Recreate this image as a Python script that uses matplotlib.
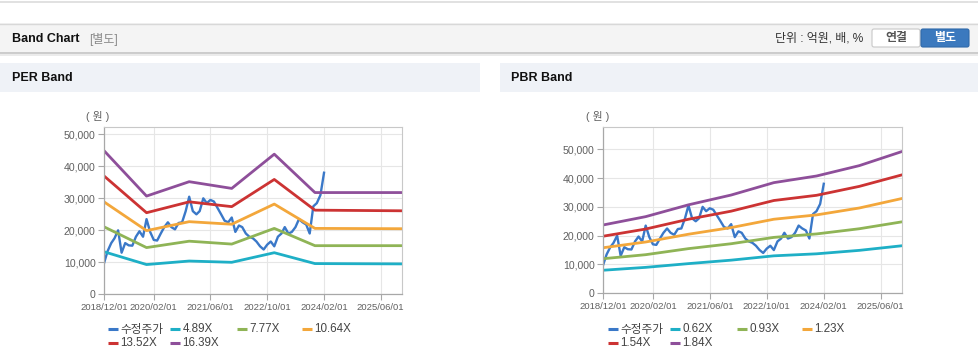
import matplotlib
matplotlib.use('Agg')
import matplotlib.pyplot as plt
import matplotlib.dates as mdates
from matplotlib.patches import Rectangle, FancyBboxPatch
from matplotlib.ticker import FuncFormatter
import pandas as pd

plt.rcParams['font.family'] = ['Liberation Sans', 'Noto Sans CJK KR']

# 수정주가 (monthly, 2018/12 ~ 2024/02), unit: 원
price_dates = pd.date_range('2018-12-01', periods=63, freq='MS')
price = [9700, 13500, 16000, 17500, 20000, 13000, 16000, 15300, 15200, 18000,
         19700, 18000, 23500, 19500, 17000, 16800, 19000, 21000, 22500, 21000,
         20300, 22300, 22500, 26000, 30500, 26000, 25000, 26000, 30000, 28500,
         29500, 29000, 27000, 25000, 23000, 22500, 24000, 19500, 21500, 21000,
         19000, 18000, 17500, 16500, 15000, 14000, 15500, 16500, 15000, 18000,
         19000, 21000, 19000, 19500, 21000, 23500, 22500, 21800, 19000, 27500,
         28500, 31000, 38000]

# PER band
per_dates = pd.to_datetime(['2018-12-01', '2019-12-01', '2020-12-01', '2021-12-01',
                            '2022-12-01', '2023-11-15', '2025-12-01'])
per_labels = ['4.89X', '7.77X', '10.64X', '13.52X', '16.39X']
per_489 = [13300, 9300, 10400, 10000, 13000, 9600, 9500]
per_777 = [21100, 14600, 16600, 15700, 20600, 15200, 15200]
per_1064 = [28900, 19900, 22700, 21900, 28200, 20600, 20500]
per_1352 = [37000, 25500, 28900, 27400, 35900, 26300, 26100]
per_1639 = [44900, 30700, 35200, 33100, 43800, 31800, 31800]

# PBR band
pbr_dates = pd.to_datetime(['2018-12-01', '2019-12-01', '2020-12-01', '2021-12-01',
                            '2022-12-01', '2023-12-01', '2024-12-01', '2025-12-01'])
pbr_labels = ['0.62X', '0.93X', '1.23X', '1.54X', '1.84X']
pbr_062 = [8000, 9000, 10300, 11500, 13000, 13700, 14900, 16500]
pbr_093 = [12000, 13400, 15500, 17200, 19400, 20600, 22400, 24800]
pbr_123 = [15800, 17800, 20500, 22800, 25700, 27200, 29600, 32900]
pbr_154 = [19800, 22300, 25700, 28500, 32200, 34000, 37100, 41100]
pbr_184 = [23700, 26600, 30700, 34100, 38400, 40700, 44300, 49200]

xticks = pd.to_datetime(['2018-12-01', '2020-02-01', '2021-06-01', '2022-10-01',
                         '2024-02-01', '2025-06-01'])
yticks = [0, 10000, 20000, 30000, 40000, 50000]

price_color = '#3a78c8'
band_colors = ['#1eafc6', '#8fb456', '#f3a73b', '#cc3333', '#8e4f9a']

W, H = 979, 361
fig = plt.figure(figsize=(W / 100, H / 100), dpi=100)

# page background in pixel coordinates
bg = fig.add_axes([0, 0, 1, 1], zorder=0)
bg.set_xlim(0, W)
bg.set_ylim(H, 0)
bg.axis('off')

bg.plot([0, W], [1.5, 1.5], color='#dcdcdc', lw=1.2)
bg.add_patch(Rectangle((0, 23), W, 30, facecolor='#f4f4f4', edgecolor='none'))
bg.plot([0, W], [23.5, 23.5], color='#d8d8d8', lw=1)
bg.plot([0, W], [53, 53], color='#c4c4c4', lw=1.2)
bg.plot([0, W], [54.5, 54.5], color='#e8e8e8', lw=1.2)
bg.text(12, 38.5, 'Band Chart', fontsize=9, fontweight='bold', color='#111', va='center')
bg.text(89, 39, '[별도]', fontsize=8.6, color='#888', va='center')
bg.text(863, 38.5, '단위 : 억원, 배, %', fontsize=8.6, color='#333', va='center', ha='right')
bg.add_patch(FancyBboxPatch((872, 29), 48, 18, boxstyle='round,pad=0,rounding_size=2',
                            facecolor='white', edgecolor='#c8c8c8', lw=0.8))
bg.text(896, 38.5, '연결', fontsize=8.6, fontweight='bold', color='#555', ha='center', va='center')
bg.add_patch(FancyBboxPatch((921, 29), 48, 18, boxstyle='round,pad=0,rounding_size=2',
                            facecolor='#3b79be', edgecolor='#2f69aa', lw=0.8))
bg.text(945, 38.5, '별도', fontsize=8.6, fontweight='bold', color='white', ha='center', va='center')

# panel headers
bg.add_patch(Rectangle((0, 63), 480, 29, facecolor='#eff2f7', edgecolor='none'))
bg.add_patch(Rectangle((500, 63), 479, 29, facecolor='#eff2f7', edgecolor='none'))
bg.text(12, 78, 'PER Band', fontsize=9, fontweight='bold', color='#111', va='center')
bg.text(511, 78, 'PBR Band', fontsize=9, fontweight='bold', color='#111', va='center')


def style_axes(ax, ylim_top):
    ax.set_xlim(pd.Timestamp('2018-12-01'), pd.Timestamp('2025-12-01'))
    ax.set_ylim(0, ylim_top)
    ax.set_xticks(xticks)
    ax.xaxis.set_major_formatter(mdates.DateFormatter('%Y/%m/%d'))
    ax.set_yticks(yticks)
    ax.yaxis.set_major_formatter(FuncFormatter(lambda v, p: f'{int(v):,}'))
    ax.grid(True, color='#e6e6e6', lw=0.8)
    ax.set_axisbelow(True)
    for side in ['top', 'right']:
        ax.spines[side].set_color('#c8c8c8')
        ax.spines[side].set_linewidth(0.8)
    for side in ['left', 'bottom']:
        ax.spines[side].set_color('#a8a8a8')
        ax.spines[side].set_linewidth(0.9)
    ax.tick_params(axis='y', length=4, width=0.8, color='#a8a8a8', labelsize=7.6,
                   labelcolor='#606060', pad=2)
    ax.tick_params(axis='x', length=4, width=0.8, color='#a8a8a8', labelsize=6.8,
                   labelcolor='#606060', pad=2)


def legend(x0, labels):
    cols = [108, 170, 237, 302]
    entries = ['수정주가'] + labels
    colors = [price_color] + band_colors
    for i, (lab, col) in enumerate(zip(entries, colors)):
        row, c = divmod(i, 4)
        y = 329 + row * 14
        x = x0 + cols[c]
        bg.plot([x, x + 10.5], [y, y], color=col, lw=2.2, solid_capstyle='butt')
        bg.text(x + 12.5, y + 0.5, lab, fontsize=8.4, color='#444', va='center')


# PER chart
ax1 = fig.add_axes([104 / W, 1 - 294.3 / H, 298 / W, 167 / H], zorder=1)
style_axes(ax1, 52200)
ax1.plot(price_dates, price, color=price_color, lw=1.7)
for vals, col in zip([per_489, per_777, per_1064, per_1352, per_1639], band_colors):
    ax1.plot(per_dates, vals, color=col, lw=2.0)
bg.text(98, 117, '( 원 )', fontsize=7.8, color='#606060', va='center', ha='center')
legend(0, per_labels)

# PBR chart
ax2 = fig.add_axes([603 / W, 1 - 293.3 / H, 299 / W, 166 / H], zorder=1)
style_axes(ax2, 57600)
ax2.plot(price_dates, price, color=price_color, lw=1.7)
for vals, col in zip([pbr_062, pbr_093, pbr_123, pbr_154, pbr_184], band_colors):
    ax2.plot(pbr_dates, vals, color=col, lw=2.0)
bg.text(598, 117, '( 원 )', fontsize=7.8, color='#606060', va='center', ha='center')
legend(500, pbr_labels)

fig.savefig('out.png', dpi=100)
